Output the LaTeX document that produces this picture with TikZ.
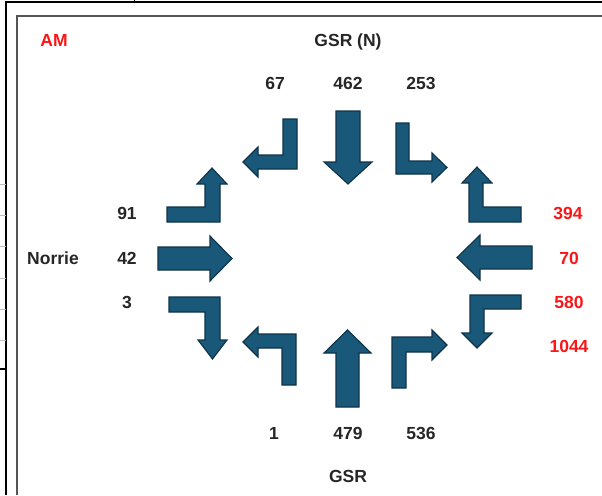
\documentclass[tikz,border=0pt]{standalone}
\usepackage{fontspec}
\setmainfont{Liberation Sans}
\usetikzlibrary{arrows.meta}
\definecolor{flowblue}{RGB}{26,88,121}
\definecolor{flowedge}{RGB}{14,50,72}
\definecolor{amred}{RGB}{250,22,22}
\definecolor{framegray}{RGB}{85,85,85}

\begin{document}
\begin{tikzpicture}[x=1pt,y=-1pt,
every node/.style={font=\fontsize{17.5}{20}\selectfont\bfseries,text=black!85,
  text height=12.5pt,text depth=0pt,inner sep=0pt},
count/.style={},
hot/.style={text=amred},
flow/.style={fill=flowblue,draw=flowedge,line width=1.1pt,line join=miter}]
\useasboundingbox (0,0) rectangle (602,495);

% sheet frame
\draw[line width=1.4pt] (6,495)--(6,2)--(602,2);
\draw[framegray,line width=1.8pt] (17,495)--(17,16)--(602,16);
\draw[black!25,line width=0.6pt] (0,184)--(6,184) (0,215)--(6,215) (0,246)--(6,246)
  (0,278)--(6,278) (0,309)--(6,309) (0,340)--(6,340);
\draw[line width=1.4pt] (0,369)--(6,369);
\draw[line width=0.8pt] (134,0)--(134,2);

% titles
\node[hot] (AM) at (54,40) {AM};
\node (N) at (348,40) {GSR (N)};
\node (S) at (348,476) {GSR};
\node (W) at (53,258) {Norrie};

% counts
\node (N1) at (275,83) {67};
\node (N2) at (348,83) {462};
\node (N3) at (421,83) {253};
\node (W1) at (127,213) {91};
\node (W2) at (127,258) {42};
\node (W3) at (127,302) {3};
\node[hot] (E1) at (568,213) {394};
\node[hot] (E2) at (569,258) {70};
\node[hot] (E3) at (569,302) {580};
\node[hot] (E4) at (569,346) {1044};
\node (S1) at (274,433) {1};
\node (S2) at (348,433) {479};
\node (S3) at (421,433) {536};

% northern approach
\draw[flow] (283,119)--(297,119)--(297,169)--(258,169)--(258,177)--(243,162)--(258,147)--(258,155)--(283,155)--cycle;
\draw[flow] (336,111)--(360,111)--(360,162)--(372,162)--(348,184)--(324,162)--(336,162)--cycle;
\draw[flow] (396,123)--(409,123)--(409,161)--(432,161)--(432,153)--(447,167.5)--(432,182)--(432,174)--(396,174)--cycle;

% western approach
\draw[flow] (167,207)--(205,207)--(205,184)--(197,184)--(212,168)--(227,184)--(220,184)--(220,222)--(167,222)--cycle;
\draw[flow] (158,247)--(210,247)--(210,236)--(232,258.5)--(210,281)--(210,270)--(158,270)--cycle;
\draw[flow] (169,297)--(220,297)--(220,340)--(227,340)--(212.5,359)--(198,340)--(205,340)--(205,312)--(169,312)--cycle;

% eastern approach
\draw[flow] (521,207)--(483,207)--(483,183)--(492,183)--(477,167)--(462,183)--(469,183)--(469,222)--(521,222)--cycle;
\draw[flow] (532,246)--(480,246)--(480,235)--(457,257.5)--(480,280)--(480,269)--(532,269)--cycle;
\draw[flow] (521,295)--(470,295)--(470,333)--(462,333)--(477,348)--(492,333)--(484,333)--(484,309)--(521,309)--cycle;

% southern approach
\draw[flow] (296,385)--(282,385)--(282,348)--(258,348)--(258,357)--(243,342)--(258,327)--(258,334)--(296,334)--cycle;
\draw[flow] (336,407)--(359,407)--(359,353)--(371,353)--(347.5,330)--(324,353)--(336,353)--cycle;
\draw[flow] (392,388)--(406,388)--(406,352)--(432,352)--(432,360)--(447,345)--(432,330)--(432,337)--(392,337)--cycle;
\end{tikzpicture}
\end{document}
